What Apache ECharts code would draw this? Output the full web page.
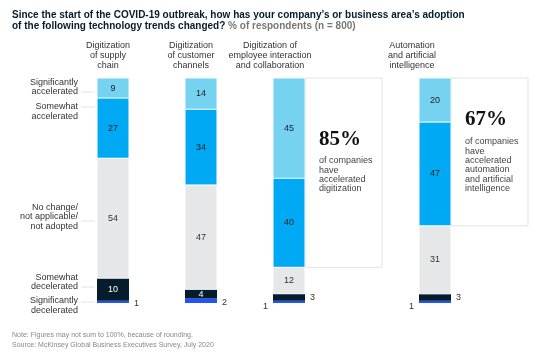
<!DOCTYPE html>
<html>
<head>
<meta charset="utf-8">
<script src="https://cdn.jsdelivr.net/npm/echarts@6/dist/echarts.min.js"></script>
<style>
  html, body { margin: 0; padding: 0; background: #fff; }
  #chart { width: 543px; height: 354px; }
</style>
</head>
<body>
<div id="chart"></div>
<script>
// categories (columns) and response levels
const categories = [
  'Digitization\nof supply\nchain',
  'Digitization\nof customer\nchannels',
  'Digitization of\nemployee interaction\nand collaboration',
  'Automation\nand artificial\nintelligence'
];
const responseLabels = [
  'Significantly\naccelerated',
  'Somewhat\naccelerated',
  'No change/\nnot applicable/\nnot adopted',
  'Somewhat\ndecelerated',
  'Significantly\ndecelerated'
];

// % of respondents, one value per category
const sigAccelerated = [9, 14, 45, 20];
const someAccelerated = [27, 34, 40, 47];
const noChange = [54, 47, 12, 31];
const someDecelerated = [10, 4, 3, 3];
const sigDecelerated = [1, 2, 1, 1];

// callouts
const calloutShares = ['85%', '67%'];
const calloutTexts = [
  'of companies\nhave\naccelerated\ndigitization',
  'of companies\nhave\naccelerated\nautomation\nand artificial\nintelligence'
];

const colors = {
  sigAcc: '#76d2f1',
  someAcc: '#00a9f4',
  none: '#e6e7e9',
  someDec: '#051c2c',
  sigDec: '#2251ff'
};

const barLefts = [97, 185, 273, 419];
const barWidth = 32;
const chartTop = 78;
const chartBottom = 51;
const headerCenters = [108, 191, 270, 412];

const chart = echarts.init(document.getElementById('chart'));

const grids = [], xAxes = [], yAxes = [], series = [];

categories.forEach((cat, i) => {
  const total = sigAccelerated[i] + someAccelerated[i] + noChange[i] + someDecelerated[i] + sigDecelerated[i];
  grids.push({ left: barLefts[i], width: barWidth, top: chartTop, bottom: chartBottom });
  xAxes.push({ type: 'category', gridIndex: i, data: [cat], show: false });
  yAxes.push({ type: 'value', gridIndex: i, min: 0, max: total, show: false });

  const base = {
    type: 'bar',
    xAxisIndex: i,
    yAxisIndex: i,
    stack: 'col' + i,
    barWidth: barWidth,
    silent: true,
    itemStyle: { borderColor: '#fff', borderWidth: 0.5 }
  };
  const inner = (color) => ({
    show: true, position: 'inside', color: color, fontSize: 9,
    fontFamily: 'Liberation Sans'
  });
  const outer = (pos, offset) => ({
    show: true, position: pos, distance: 5, color: '#333', fontSize: 9,
    fontFamily: 'Liberation Sans', offset: offset
  });

  // bottom to top
  series.push(Object.assign({}, base, {
    name: 'Significantly decelerated',
    data: [{ value: sigDecelerated[i], label: i < 2 ? outer('right', [0, 2]) : outer('left', [0, 5]) }],
    itemStyle: { color: colors.sigDec }
  }));
  series.push(Object.assign({}, base, {
    name: 'Somewhat decelerated',
    data: [{ value: someDecelerated[i], label: i < 2 ? inner('#fff') : outer('right', [0, 0]) }],
    itemStyle: { color: colors.someDec }
  }));
  series.push(Object.assign({}, base, {
    name: 'No change',
    data: [noChange[i]],
    label: inner('#333'),
    itemStyle: { color: colors.none, borderColor: '#fff', borderWidth: 0.5 }
  }));
  series.push(Object.assign({}, base, {
    name: 'Somewhat accelerated',
    data: [someAccelerated[i]],
    label: inner('#222'),
    itemStyle: { color: colors.someAcc, borderColor: '#fff', borderWidth: 0.5 }
  }));
  series.push(Object.assign({}, base, {
    name: 'Significantly accelerated',
    data: [sigAccelerated[i]],
    label: inner('#222'),
    itemStyle: { color: colors.sigAcc, borderColor: '#e8f6fc', borderWidth: 0.5 }
  }));
});

const textFont = 'Liberation Sans';

// header texts over each column
const headerGraphics = categories.map((cat, i) => ({
  type: 'text', x: headerCenters[i], y: 41,
  style: {
    text: cat, textAlign: 'center', textVerticalAlign: 'top',
    fontSize: 9, lineHeight: 10, fill: '#333', fontFamily: textFont
  }
}));

// response labels on the left with leader lines
const labelYs = [87, 111.5, 217, 282, 305.5];
const leaderYs = [92, 107, 221, 287, 302];
const responseGraphics = [];
responseLabels.forEach((txt, k) => {
  responseGraphics.push({
    type: 'text', x: 78, y: labelYs[k],
    style: {
      text: txt, textAlign: 'right', textVerticalAlign: 'middle',
      fontSize: 9, lineHeight: 9.6, fill: '#333', fontFamily: textFont
    }
  });
  responseGraphics.push({
    type: 'line',
    shape: { x1: 81, y1: leaderYs[k], x2: 95, y2: leaderYs[k] },
    style: { stroke: '#e2e2e2', lineWidth: 1 }
  });
});

chart.setOption({
  backgroundColor: '#fff',
  animation: false,
  title: [{
    left: 12, top: 10, padding: 0,
    text: '{b|Since the start of the COVID-19 outbreak, how has your company\u2019s or business area\u2019s adoption}\n{b|of the following technology trends changed?}{n| % of respondents (n = 800)}',
    textStyle: {
      fontSize: 10, lineHeight: 11,
      rich: {
        b: { fontSize: 10, fontWeight: 'bold', color: '#051c2c', fontFamily: textFont, lineHeight: 11 },
        n: { fontSize: 10, color: '#777', fontFamily: textFont, lineHeight: 11 }
      }
    }
  }, {
    left: 12, top: 330, padding: 0,
    text: 'Note: Figures may not sum to 100%, because of rounding.\nSource: McKinsey Global Business Executives Survey, July 2020',
    textStyle: { fontSize: 7, fontWeight: 'normal', color: '#888', fontFamily: textFont, lineHeight: 10 }
  }],
  grid: grids,
  xAxis: xAxes,
  yAxis: yAxes,
  series: series,
  graphic: headerGraphics.concat(responseGraphics)
});

// callout boxes spanning the accelerated segments of columns 3 and 4
const calloutCols = [2, 3];
const calloutGraphics = [];
calloutCols.forEach((col, k) => {
  const boundary = sigDecelerated[col] + someDecelerated[col] + noChange[col];
  const bottomY = chart.convertToPixel({ gridIndex: col }, [0, boundary])[1];
  const x0 = barLefts[col] + barWidth;
  const w = 77;
  calloutGraphics.push({
    type: 'rect',
    shape: { x: x0, y: chartTop, width: w, height: bottomY - chartTop },
    style: { fill: 'none', stroke: '#e3e3e3', lineWidth: 1 }
  });
  const numY = k === 0 ? 140 : 120;
  const bodyY = k === 0 ? 156 : 137;
  calloutGraphics.push({
    type: 'text', x: x0 + 14, y: numY,
    style: {
      text: calloutShares[k], textVerticalAlign: 'middle',
      fontSize: 21, fontWeight: 'bold', fill: '#111', fontFamily: 'Liberation Serif'
    }
  });
  calloutGraphics.push({
    type: 'text', x: x0 + 14, y: bodyY,
    style: {
      text: calloutTexts[k], textVerticalAlign: 'top',
      fontSize: 9, lineHeight: 9.4, fill: '#444', fontFamily: textFont
    }
  });
});

chart.setOption({ graphic: headerGraphics.concat(responseGraphics, calloutGraphics) });
</script>
</body>
</html>
